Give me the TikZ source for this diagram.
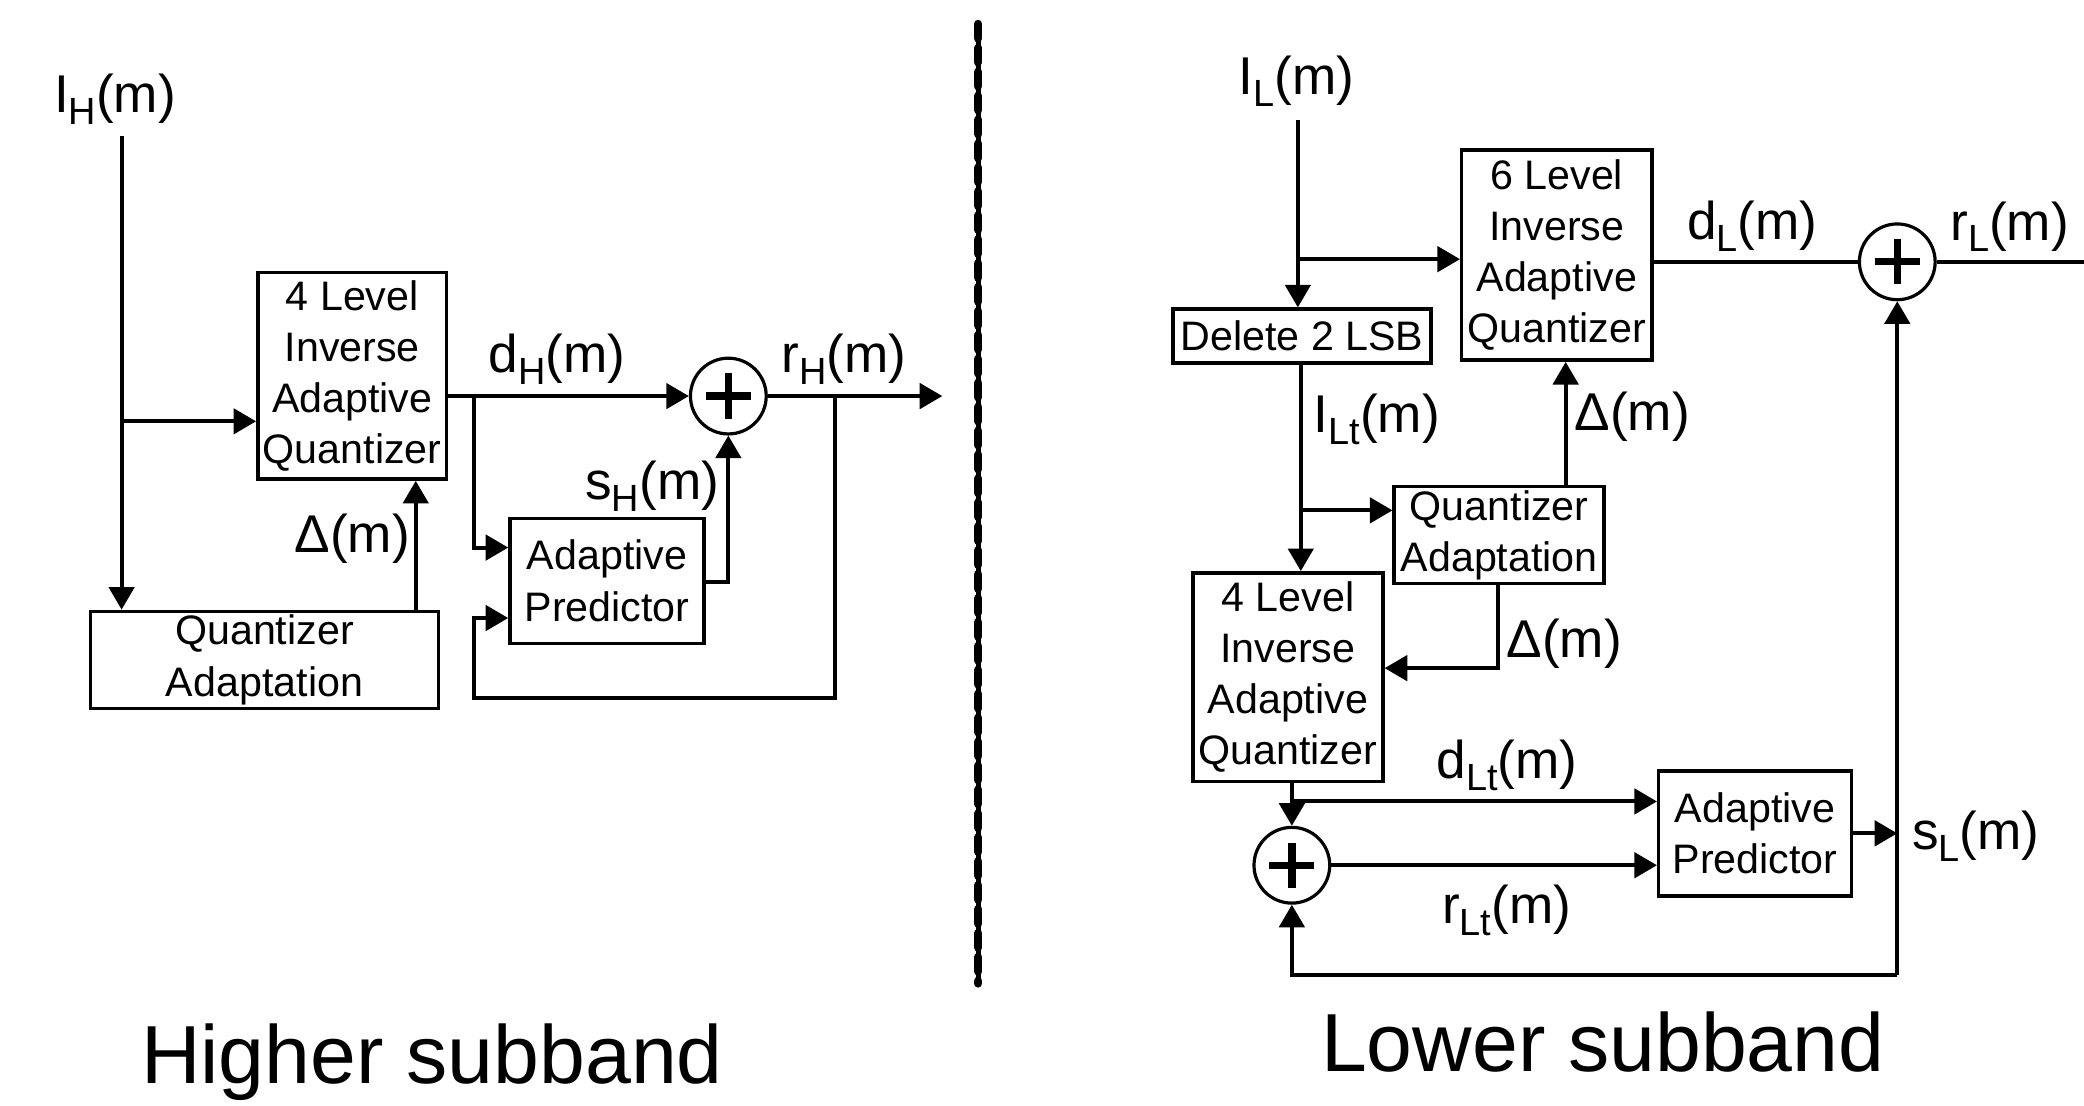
\documentclass[tikz,border=0pt]{standalone}
\usepackage{fontspec}
\setmainfont{Liberation Sans}
\usetikzlibrary{arrows.meta,calc}
\newcommand{\sig}[2]{#1\raisebox{-9pt}{\fontsize{28.5}{28.5}\selectfont #2}(m)}
\begin{document}
\begin{tikzpicture}[x=1pt,y=-1pt,
  blk/.style={draw, line width=2.6pt, inner sep=0pt, align=center, font=\fontsize{31}{38.5}\selectfont},
  sumnode/.style={circle, draw, line width=2.4pt, minimum size=57pt, inner sep=0pt},
  plussign/.style={line width=5.5pt},
  lbl/.style={anchor=base, inner sep=0pt, font=\fontsize{40}{48}\selectfont},
  ttl/.style={anchor=base, inner sep=0pt, font=\fontsize{62}{72}\selectfont},
  con/.style={line width=3pt},
  arr/.style={con, -{Triangle[length=17pt,width=19pt]}},
]
\useasboundingbox (0,0) rectangle (1568,832);

% ---------------- Higher subband ----------------
\node[lbl] (ihlab) at (86.5,85) {\sig{I}{H}};
\node[blk, minimum width=142pt, minimum height=155.5pt] (iaqH) at (265,282.75) {4 Level\\Inverse\\Adaptive\\Quantizer};
\node[blk, minimum width=262pt, minimum height=73pt] (qaH) at (199,496.5) {Quantizer\\Adaptation};
\node[blk, minimum width=146pt, minimum height=94pt] (predH) at (456.7,437) {Adaptive\\Predictor};
\node[sumnode] (sumH) at (548,298) {};
\draw[plussign] ($(sumH)+(-17,0)$) -- ($(sumH)+(17,0)$);
\draw[plussign] ($(sumH)+(0,-17)$) -- ($(sumH)+(0,17)$);

\coordinate (ihtop) at (91.5,102.6);
\coordinate (jH1) at (91.5,317);
\coordinate (xdH) at (312.8,0);
\coordinate (jH2) at (356.7,298);
\coordinate (yP1) at (0,412);
\coordinate (yP2) at (0,465);
\coordinate (yPo) at (0,437.7);
\coordinate (rHend) at (709,298);
\coordinate (fbH) at (628,298);
\coordinate (fbHb) at (356.5,525);

\draw[arr] (ihtop) -- (ihtop |- qaH.north);
\draw[arr] (jH1) -- (jH1 -| iaqH.west);
\draw[arr] (qaH.north -| xdH) -- (iaqH.south -| xdH);
\draw[arr] (iaqH.east |- sumH) -- (sumH.west);
\draw[arr] (jH2) |- (predH.west |- yP1);
\draw[arr] (predH.east |- yPo) -| (sumH.south);
\draw[arr] (sumH.east) -- (rHend);
\draw[arr] (fbH) |- (fbHb) |- (predH.west |- yP2);

\node[lbl] (dHlab) at (419,280) {\sig{d}{H}};
\node[lbl] (rHlab) at (635,280) {\sig{r}{H}};
\node[lbl] (sHlab) at (490.7,376) {\sig{s}{H}};
\node[lbl] (DHlab) at (265,416) {Δ(m)};
\node[ttl] (tH) at (325,815) {Higher subband};

% ---------------- divider ----------------
\coordinate (dv1) at (736,18);
\coordinate (dv2) at (736,740);
\draw[line width=3.6pt] (dv1) -- (dv2);
\draw[line width=6.2pt, line cap=round, dash pattern=on 11pt off 7pt] (dv1) -- (dv2);

% ---------------- Lower subband ----------------
\node[lbl] (illab) at (975.5,71) {\sig{I}{L}};
\node[blk, minimum width=194pt, minimum height=40.4pt] (del) at (979.7,252.8) {Delete 2 LSB};
\node[blk, minimum width=143pt, minimum height=158pt] (six) at (1171.3,192) {6 Level\\Inverse\\Adaptive\\Quantizer};
\node[sumnode] (sumT) at (1427.5,197) {};
\draw[plussign] ($(sumT)+(-17,0)$) -- ($(sumT)+(17,0)$);
\draw[plussign] ($(sumT)+(0,-17)$) -- ($(sumT)+(0,17)$);
\node[blk, minimum width=158pt, minimum height=73pt] (qaL) at (1128,402.5) {Quantizer\\Adaptation};
\node[blk, minimum width=143pt, minimum height=157pt] (fourL) at (969,509.5) {4 Level\\Inverse\\Adaptive\\Quantizer};
\node[sumnode] (sumB) at (972,651) {};
\draw[plussign] ($(sumB)+(-17,0)$) -- ($(sumB)+(17,0)$);
\draw[plussign] ($(sumB)+(0,-17)$) -- ($(sumB)+(0,17)$);
\node[blk, minimum width=145pt, minimum height=94pt] (predL) at (1320.5,627) {Adaptive\\Predictor};

\coordinate (iltop) at (976.5,90);
\coordinate (jL1) at (976.5,195);
\coordinate (xA) at (978.7,0);
\coordinate (jL2) at (978.7,384);
\coordinate (xB) at (1178,0);
\coordinate (xC) at (1127,0);
\coordinate (yC) at (0,502.7);
\coordinate (jL3) at (972,603);
\coordinate (xD) at (1427.5,0);
\coordinate (rLend) at (1568,197);
\coordinate (fbL) at (1427.5,733.6);

\draw[arr] (iltop) -- (iltop |- del.north);
\draw[arr] (jL1) -- (jL1 -| six.west);
\draw[con] (six.east |- sumT) -- (sumT.west);
\draw[con] (sumT.east) -- (rLend);
\draw[arr] (del.south -| xA) -- (fourL.north -| xA);
\draw[arr] (jL2) -- (jL2 -| qaL.west);
\draw[arr] (qaL.north -| xB) -- (six.south -| xB);
\draw[arr] (qaL.south -| xC) |- (fourL.east |- yC);
\draw[arr] (fourL.south -| sumB) -- (sumB.north);
\draw[arr] (jL3) -- (jL3 -| predL.west);
\draw[arr] (sumB.east) -- (sumB.east -| predL.west);
\draw[arr] (predL.east) -- (predL.east -| xD);
\draw[arr] (fbL) -- (sumT.south);
\draw[arr] (fbL) -| (sumB.south);

\node[lbl] (dLlab) at (1318.5,180) {\sig{d}{L}};
\node[lbl] (rLlab) at (1512,180.6) {\sig{r}{L}};
\node[lbl] (iLtlab) at (1036,325.5) {\sig{I}{Lt}};
\node[lbl] (DL1lab) at (1228,324) {Δ(m)};
\node[lbl] (DL2lab) at (1177,495) {Δ(m)};
\node[lbl] (dLtlab) at (1134,585.5) {\sig{d}{Lt}};
\node[lbl] (rLtlab) at (1133.5,694.7) {\sig{r}{Lt}};
\node[lbl] (sLlab) at (1486.5,639) {\sig{s}{L}};
\node[ttl] (tL) at (1206,806) {Lower subband};
\end{tikzpicture}
\end{document}
